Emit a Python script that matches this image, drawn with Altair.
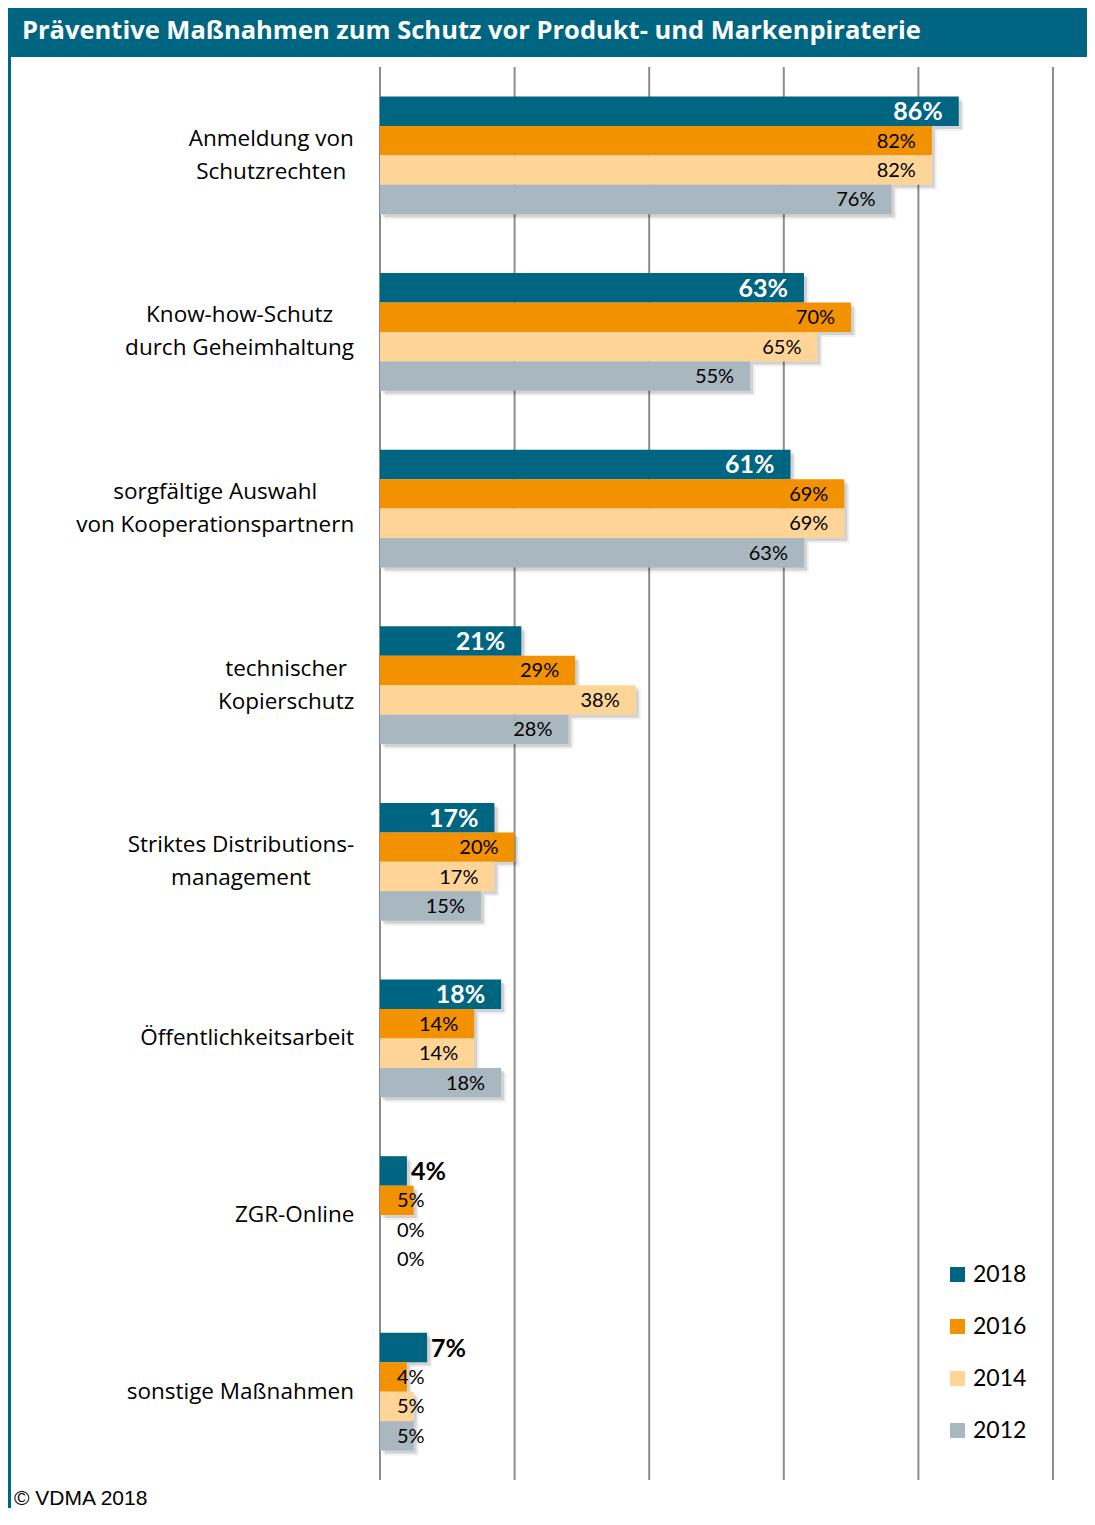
import altair as alt
import pandas as pd

categories = [
    "Anmeldung von\nSchutzrechten",
    "Know-how-Schutz\ndurch Geheimhaltung",
    "sorgfältige Auswahl\nvon Kooperationspartnern",
    "technischer\nKopierschutz",
    "Striktes Distributions-\nmanagement",
    "Öffentlichkeitsarbeit",
    "ZGR-Online",
    "sonstige Maßnahmen",
]
years = ["2018", "2016", "2014", "2012"]
v2018 = [86, 63, 61, 21, 17, 18, 4, 7]
v2016 = [82, 70, 69, 29, 20, 14, 5, 4]
v2014 = [82, 65, 69, 38, 17, 14, 0, 5]
v2012 = [76, 55, 63, 28, 15, 18, 0, 5]
grid_ticks = [0, 20, 40, 60, 80, 100]
colors = ["#006580", "#F39200", "#FFD597", "#A9B7C1"]
TEAL = "#006580"
title_text = "Präventive Maßnahmen zum Schutz vor Produkt- und Markenpiraterie"
footer_text = "© VDMA 2018"

W, H = 673, 1413
CAT_FONT = 22.5
LH = 33
LABEL_RIGHT = -26  # right edge of the widest label line, relative to the plot area

# approximate Open Sans Regular advance widths (units per em = 2048),
# used only to centre multi-line category labels like the original
_adv = {
    " ": 532, "a": 1139, "b": 1255, "c": 975, "d": 1255, "e": 1149, "f": 694,
    "g": 1122, "h": 1257, "i": 518, "j": 518, "k": 1075, "l": 518, "m": 1905,
    "n": 1257, "o": 1237, "p": 1255, "q": 1255, "r": 836, "s": 977, "t": 723,
    "u": 1257, "v": 1026, "w": 1593, "x": 1073, "y": 1028, "z": 977, "ä": 1139,
    "ö": 1237, "ü": 1257, "ß": 1300, "A": 1296, "K": 1200, "S": 1114, "D": 1479,
    "G": 1466, "M": 1804, "Z": 1139, "R": 1237, "O": 1595, "Ö": 1595, "C": 1292,
    "-": 659,
}

def text_width(s):
    return sum(_adv.get(ch, 1150) for ch in s) / 2048 * CAT_FONT

series = {"2018": v2018, "2016": v2016, "2014": v2014, "2012": v2012}
rows = []
for ci, cat in enumerate(categories):
    for yi, yr in enumerate(years):
        rows.append({"cat": cat, "ci": ci, "year": yr, "yi": yi, "value": series[yr][ci]})
df = pd.DataFrame(rows)

line_rows = []
for ci, cat in enumerate(categories):
    lines = cat.split("\n")
    wmax = max(text_width(l) for l in lines)
    cx = LABEL_RIGHT - wmax / 2
    n = len(lines)
    for li, l in enumerate(lines):
        line_rows.append({"line": l, "ci": ci, "li": li, "n": n, "cx": cx})
line_df = pd.DataFrame(line_rows)
grid_df = pd.DataFrame({"g": grid_ticks})

xs = alt.Scale(domain=[0, 100], nice=False, zero=False)
ys = alt.Scale(domain=[0, 6 * len(categories)], reverse=True, nice=False, zero=False)

base = alt.Chart(df).transform_calculate(
    s0="datum.ci * 6 + 1 + datum.yi",
    s1="datum.ci * 6 + 2 + datum.yi",
    sm="datum.ci * 6 + 1.5 + datum.yi",
    zero="0",
    lx="max(datum.value, 9)",
    lbl="datum.value + '%'",
)

grid = alt.Chart(grid_df).mark_rule(color="#8c8c8c", strokeWidth=2).encode(
    x=alt.X("g:Q", scale=xs, axis=None),
    y=alt.value(0),
    y2=alt.value(H),
)

def shadow(off, op):
    return base.transform_filter("datum.value > 0").mark_rect(
        color="#000000", opacity=op, xOffset=off, x2Offset=off, yOffset=off, y2Offset=off
    ).encode(
        x=alt.X("value:Q", scale=xs, axis=None),
        x2="zero:Q",
        y=alt.Y("s0:Q", scale=ys, axis=None),
        y2="s1:Q",
    )

bars = base.mark_rect().encode(
    x=alt.X("value:Q", scale=xs, axis=None),
    x2="zero:Q",
    y=alt.Y("s0:Q", scale=ys, axis=None),
    y2="s1:Q",
    color=alt.Color(
        "year:N",
        scale=alt.Scale(domain=years, range=colors),
        legend=alt.Legend(
            orient="none", legendX=566, legendY=1196, title=None,
            symbolType="square", symbolSize=225, symbolStrokeWidth=0,
            labelFontSize=23, labelFont="Lato", labelColor="#000000",
            rowPadding=28, padding=0, labelOffset=4,
        ),
    ),
)

t_in = base.transform_filter("datum.year == '2018' && datum.value >= 10").mark_text(
    align="right", baseline="middle", dx=-16, dy=1, font="Lato", fontWeight="bold",
    fontSize=25, color="#ffffff"
).encode(
    x=alt.X("value:Q", scale=xs, axis=None),
    y=alt.Y("sm:Q", scale=ys, axis=None),
    text="lbl:N",
)

t_out = base.transform_filter("datum.year == '2018' && datum.value < 10").mark_text(
    align="left", baseline="middle", dx=4, dy=1, font="Lato", fontWeight="bold",
    fontSize=25, color="#000000"
).encode(
    x=alt.X("value:Q", scale=xs, axis=None),
    y=alt.Y("sm:Q", scale=ys, axis=None),
    text="lbl:N",
)

t_oth = base.transform_filter("datum.year != '2018'").mark_text(
    align="right", baseline="middle", dx=-16, dy=1, font="Lato",
    fontSize=20, color="#000000"
).encode(
    x=alt.X("lx:Q", scale=xs, axis=None),
    y=alt.Y("sm:Q", scale=ys, axis=None),
    text="lbl:N",
)

def cat_layer(flt, dy):
    return alt.Chart(line_df).transform_filter(flt).transform_calculate(
        cy="datum.ci * 6 + 3",
    ).mark_text(
        align="center", baseline="middle", font="Open Sans", fontSize=CAT_FONT,
        color="#000000", dy=dy
    ).encode(
        x=alt.X("cx:Q", scale=None, axis=None),
        y=alt.Y("cy:Q", scale=ys, axis=None),
        text="line:N",
    )

cat_single = cat_layer("datum.n == 1", 0)
cat_first = cat_layer("datum.n == 2 && datum.li == 0", -LH / 2)
cat_second = cat_layer("datum.n == 2 && datum.li == 1", LH / 2)

one = alt.Data(values=[{"a": 1}])
title_bar = alt.Chart(one).mark_rect(color=TEAL).encode(
    x=alt.value(-372), x2=alt.value(707), y=alt.value(-59), y2=alt.value(-10)
)
left_border = alt.Chart(one).mark_rect(color=TEAL).encode(
    x=alt.value(-372), x2=alt.value(-369), y=alt.value(-10), y2=alt.value(H + 28)
)
title = alt.Chart(one).mark_text(
    align="left", baseline="middle", font="Open Sans", fontWeight="bold",
    fontSize=25.5, color="#ffffff"
).encode(x=alt.value(-358), y=alt.value(-36), text=alt.value(title_text))
footer = alt.Chart(one).mark_text(
    align="left", baseline="alphabetic", font="Liberation Sans", fontSize=21,
    color="#000000"
).encode(x=alt.value(-366), y=alt.value(H + 25), text=alt.value(footer_text))

chart = alt.layer(
    grid, title_bar, left_border, title, footer,
    shadow(5, 0.06), shadow(3, 0.12),
    bars, t_in, t_out, t_oth, cat_single, cat_first, cat_second,
).properties(
    width=W, height=H, autosize="none",
    padding={"left": 372, "top": 59, "right": 34, "bottom": 28},
).configure_view(stroke=None)

chart.save("out.html", embed_options={"renderer": "svg", "actions": False})
